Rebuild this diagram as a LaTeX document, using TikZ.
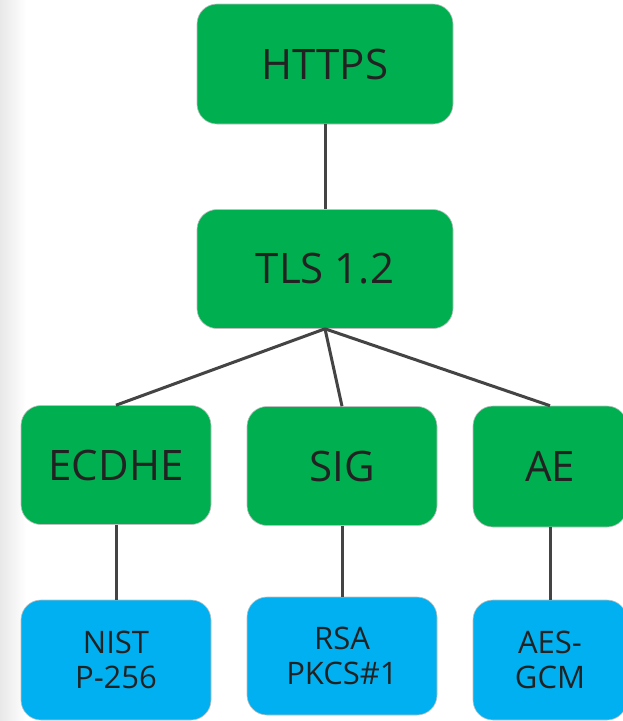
\documentclass[tikz,border=0pt]{standalone}
\usepackage{fontspec}
\setmainfont{Open Sans}
\definecolor{boxgreen}{HTML}{00B050}
\definecolor{boxblue}{HTML}{00B0F0}
\definecolor{edgegray}{HTML}{444444}
\definecolor{inkdark}{HTML}{222222}
\begin{document}
\begin{tikzpicture}[x=1pt,y=-1pt,
  box/.style={rounded corners=20pt, draw=black!25, line width=0.6pt,
    minimum width=190pt, minimum height=119pt, inner sep=0pt,
    text=inkdark, align=center, anchor=center},
  topbox/.style={box, fill=boxgreen, font=\fontsize{42}{46}\selectfont},
  leafbox/.style={box, fill=boxblue, font=\fontsize{31}{35}\selectfont},
  link/.style={draw=edgegray, line width=3pt}]
  \useasboundingbox (0,0) rectangle (623,721);
  \fill[white] (0,0) rectangle (623,721);
  \shade[left color=black!9, right color=white] (0,0) rectangle (26,721);

  % protocol layers
  \node[topbox, minimum width=256pt, minimum height=120pt] (https) at (325,64) {HTTPS};
  \node[topbox, minimum width=256pt] (tls) at (325,269) {TLS 1.2};

  % cipher suite components
  \node[topbox] (ecdhe) at (116,465) {ECDHE};
  \node[topbox] (sig) at (342,466) {SIG};
  \node[topbox, minimum width=154pt, minimum height=121pt] (ae) at (550,466.5) {AE};

  % concrete algorithms
  \node[leafbox, minimum height=120pt] (nist) at (116,660) {NIST\\P-256};
  \node[leafbox, minimum height=118pt] (rsa) at (342,656) {RSA\\PKCS\#1};
  \node[leafbox, minimum width=154pt, minimum height=120pt] (aes) at (550,660) {AES-\\GCM};

  % connectors
  \draw[link] (https.south) -- (tls.north);
  \draw[link] (tls.south) -- (ecdhe.north);
  \draw[link] (tls.south) -- (sig.north);
  \draw[link] (tls.south) -- (ae.north);
  \draw[link] (ecdhe.south) -- (nist.north);
  \draw[link] (sig.south) -- (rsa.north);
  \draw[link] (ae.south) -- (aes.north);
\end{tikzpicture}
\end{document}
